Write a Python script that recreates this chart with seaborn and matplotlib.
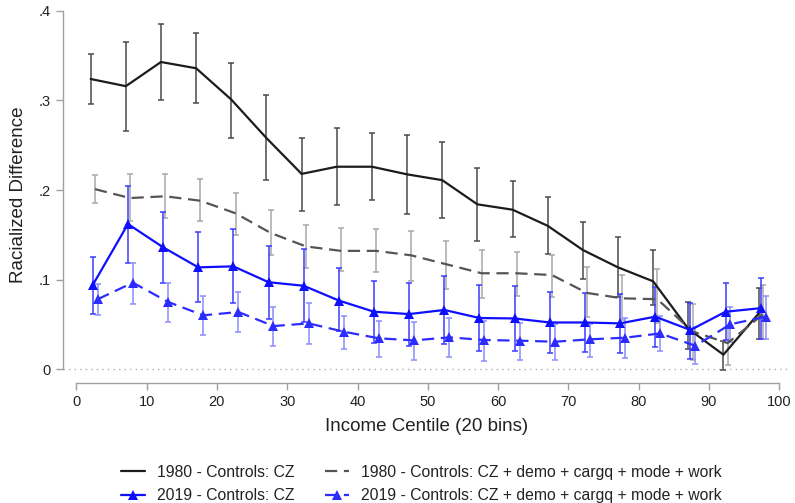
import numpy as np
import pandas as pd
import matplotlib
matplotlib.use("Agg")
import matplotlib.pyplot as plt
import seaborn as sns

# Income bins (20 bins, centile midpoints)
centers = [2.5, 7.5, 12.5, 17.5, 22.5, 27.5, 32.5, 37.5, 42.5, 47.5,
           52.5, 57.5, 62.5, 67.5, 72.5, 77.5, 82.5, 87.5, 92.5, 97.5]

# 1980 - Controls: CZ
y80_cz = [0.324, 0.316, 0.343, 0.336, 0.301, 0.258, 0.218, 0.226, 0.226, 0.2175,
          0.211, 0.184, 0.178, 0.160, 0.133, 0.1136, 0.098, 0.045, 0.016, 0.062]
lo80_cz = [0.296, 0.266, 0.300, 0.297, 0.258, 0.211, 0.177, 0.183, 0.189, 0.173,
           0.169, 0.143, 0.147, 0.129, 0.101, 0.081, 0.0715, 0.022, -0.001, 0.034]
hi80_cz = [0.352, 0.365, 0.386, 0.375, 0.342, 0.306, 0.258, 0.269, 0.264, 0.262,
           0.254, 0.225, 0.210, 0.192, 0.164, 0.147, 0.1326, 0.075, 0.031, 0.090]

# 1980 - Controls: CZ + demo + cargq + mode + work
y80_all = [0.201, 0.191, 0.193, 0.188, 0.174, 0.152, 0.137, 0.132, 0.132, 0.127,
           0.117, 0.107, 0.107, 0.105, 0.085, 0.079, 0.078, 0.042, 0.029, 0.061]
lo80_all = [0.186, 0.165, 0.169, 0.165, 0.150, 0.127, 0.1125, 0.110, 0.108, 0.098,
            0.089, 0.079, 0.082, 0.080, 0.058, 0.055, 0.051, 0.010, 0.0045, 0.034]
hi80_all = [0.217, 0.2175, 0.2175, 0.212, 0.197, 0.178, 0.161, 0.158, 0.156, 0.154,
            0.143, 0.133, 0.131, 0.127, 0.114, 0.105, 0.112, 0.073, 0.046, 0.0935]

# 2019 - Controls: CZ
y19_cz = [0.094, 0.162, 0.136, 0.1136, 0.1147, 0.097, 0.093, 0.0765, 0.064, 0.0614,
          0.066, 0.057, 0.0565, 0.052, 0.052, 0.051, 0.0585, 0.0436, 0.064, 0.068]
lo19_cz = [0.0614, 0.119, 0.0965, 0.0745, 0.0734, 0.0555, 0.052, 0.042, 0.0294, 0.026,
           0.028, 0.0205, 0.0205, 0.0175, 0.0194, 0.0175, 0.0242, 0.011, 0.032, 0.034]
hi19_cz = [0.1255, 0.204, 0.1754, 0.1527, 0.156, 0.138, 0.134, 0.1125, 0.0985, 0.096,
           0.104, 0.094, 0.093, 0.0864, 0.0853, 0.0838, 0.0913, 0.0741, 0.0957, 0.1013]

# 2019 - Controls: CZ + demo + cargq + mode + work
y19_all = [0.078, 0.0965, 0.075, 0.060, 0.0637, 0.048, 0.051, 0.0417, 0.0343, 0.032,
           0.0354, 0.0324, 0.0317, 0.0305, 0.0332, 0.035, 0.0398, 0.026, 0.050, 0.0585]
lo19_all = [0.060, 0.073, 0.0529, 0.0377, 0.041, 0.0257, 0.0276, 0.0223, 0.0138, 0.010,
            0.0138, 0.009, 0.010, 0.010, 0.013, 0.012, 0.0205, 0.006, 0.030, 0.034]
hi19_all = [0.095, 0.1188, 0.0957, 0.0819, 0.086, 0.0696, 0.0734, 0.0592, 0.0536, 0.052,
            0.0566, 0.054, 0.0518, 0.050, 0.050, 0.0566, 0.0592, 0.047, 0.0696, 0.0816]

labels = ["1980 - Controls: CZ",
          "1980 - Controls: CZ + demo + cargq + mode + work",
          "2019 - Controls: CZ",
          "2019 - Controls: CZ + demo + cargq + mode + work"]

sns.set_style("white")
plt.rcParams["font.family"] = ["Liberation Sans", "DejaVu Sans"]

fig = plt.figure(figsize=(7.95, 5.03), dpi=100)
ax = fig.add_axes([63 / 795, 1 - 383 / 503, (791 - 63) / 795, (383 - 6.5) / 503])

# series: (values, low, high, label, x shift, line color, ci color, dash, marker)
series = [
    (y80_cz, lo80_cz, hi80_cz, labels[0], -0.45, "#1c1c1c", "#4a4a4a", "solid", None),
    (y80_all, lo80_all, hi80_all, labels[1], 0.15, "#555555", "#a8a8a8", (0, (5.5, 3)), None),
    (y19_cz, lo19_cz, hi19_cz, labels[2], -0.15, "#0f0fff", "#3c3cff", "solid", "^"),
    (y19_all, lo19_all, hi19_all, labels[3], 0.55, "#2c2cff", "#8c8cff", (0, (5.5, 3)), "^"),
]

ax.axhline(0, color="#b0b0b0", lw=1.0, ls=(0, (1, 3)), zorder=0)

handles = []
for vals, lo, hi, lab, shift, lc, cc, ls, mk in series:
    x = np.array(centers) + shift
    v = np.array(vals)
    ax.errorbar(x, v, yerr=[v - np.array(lo), np.array(hi) - v], fmt="none",
                ecolor=cc, elinewidth=1.1, capsize=2.3, capthick=1.1, zorder=2)
    df = pd.DataFrame({"x": x, "y": v})
    sns.lineplot(data=df, x="x", y="y", ax=ax, color=lc, lw=1.6,
                 marker=mk, markersize=6.5 if mk else 0, markeredgewidth=0,
                 zorder=3, estimator=None, sort=False)
    line = ax.lines[-1]
    line.set_linestyle(ls)
    handles.append(line)

ax.set_xlim(-1.89, 101.66)
ax.set_ylim(-0.0156, 0.405)
ax.set_xticks(range(0, 101, 10))
ax.set_yticks([0, 0.1, 0.2, 0.3, 0.4])
ax.set_yticklabels(["0", ".1", ".2", ".3", ".4"])

for s in ["top", "right"]:
    ax.spines[s].set_visible(False)
for s in ["left", "bottom"]:
    ax.spines[s].set_color("#a0a0a0")
    ax.spines[s].set_linewidth(1.0)
ax.spines["left"].set_bounds(0, 0.4)
ax.spines["bottom"].set_bounds(0, 100)
ax.tick_params(axis="both", which="major", direction="out", length=5, width=1.0,
               color="#a0a0a0", labelsize=10.5, labelcolor="#222222", pad=4,
               left=True, bottom=True)

ax.set_xlabel("Income Centile (20 bins)", fontsize=13.5, color="#222222", labelpad=6)
ax.set_ylabel("Racialized Difference", fontsize=13.5, color="#222222", labelpad=8)

leg = fig.legend([handles[0], handles[2], handles[1], handles[3]],
                 [labels[0], labels[2], labels[1], labels[3]],
                 loc="center", bbox_to_anchor=(0.530, 0.038), ncol=2, frameon=False,
                 fontsize=11.3, handlelength=1.5, handletextpad=0.75,
                 columnspacing=2.0, labelspacing=0.55)
for t in leg.get_texts():
    t.set_color("#222222")

fig.savefig("out.png", dpi=100)
